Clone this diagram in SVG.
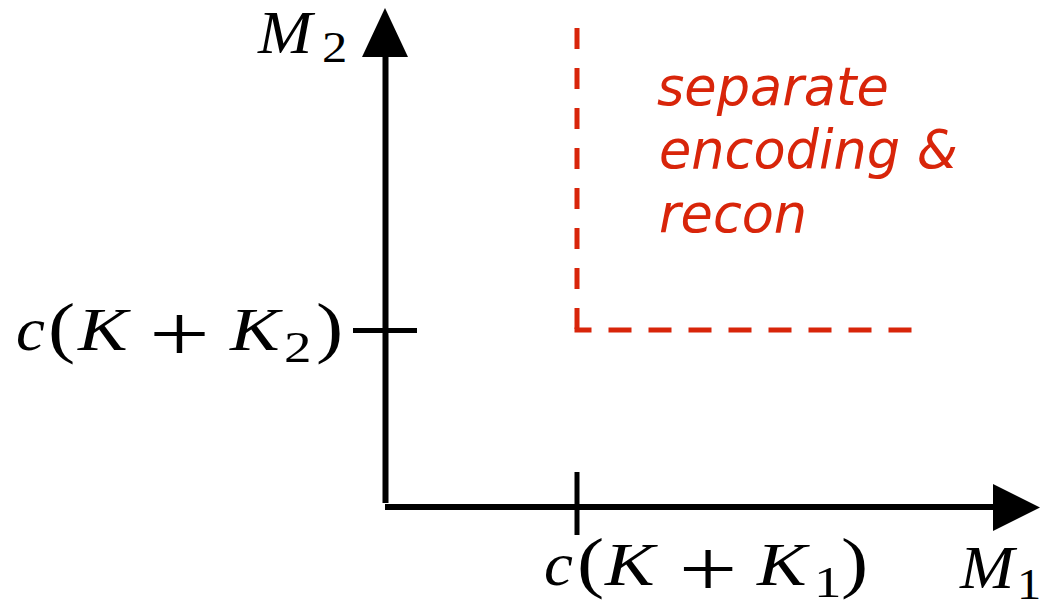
<svg xmlns="http://www.w3.org/2000/svg" width="1043" height="605" viewBox="0 0 1043 605">
<style>
.ax{stroke:#000;stroke-width:6;fill:none}
.tk{stroke:#000;stroke-width:5;fill:none}
.red{stroke:#d8250a;stroke-width:5;fill:none}
.m{font-family:"Liberation Serif",serif;font-size:62px;fill:#000}
.i{font-style:italic}
.p{font-size:68px}
.pl{font-size:80px}
.s{font-size:44px}
.lbl{font-family:"DejaVu Sans",sans-serif;font-style:oblique;font-size:52.5px;fill:#d8250a}
</style>
<rect width="1043" height="605" fill="#fff"/>
<g id="connectors">
<line class="ax" x1="385.5" y1="503" x2="385.5" y2="55"/>
<polygon points="362,57 408,57 385,8" fill="#000"/>
<line class="ax" x1="385" y1="507" x2="995" y2="507"/>
<polygon points="993,484 993,531 1040,507.5" fill="#000"/>
<line class="tk" x1="353" y1="330.5" x2="417" y2="330.5"/>
<line class="tk" x1="577" y1="472" x2="577" y2="535"/>
</g>
<g id="region">
<line class="red" x1="577" y1="28" x2="577" y2="330" stroke-dasharray="21 19"/>
<line class="red" x1="574.5" y1="330" x2="913" y2="330" stroke-dasharray="23 17" stroke-dashoffset="6"/>
<text class="lbl"><tspan x="657" y="105">separate</tspan><tspan x="659" y="168">encoding &amp;</tspan><tspan x="659" y="232">recon</tspan></text>
</g>
<g id="label-M2">
<text class="m i" transform="translate(258,53) scale(1.05,1)">M</text>
<text class="m s" transform="translate(322,62) scale(1.15,1)">2</text>
</g>
<g id="label-M1">
<text class="m i" transform="translate(960,588) scale(1.05,1)">M</text>
<text class="m s" transform="translate(1017,599) scale(1.1,1)">1</text>
</g>
<g id="label-cK2">
<text class="m i" transform="translate(16,350) scale(1.05,1)">c</text>
<text class="m p" transform="translate(48,350) scale(1.2,1)">(</text>
<text class="m i" transform="translate(78,350) scale(1.2,1)">K</text>
<text class="m pl" text-anchor="middle" transform="translate(179.5,361) scale(1.35,1)">+</text>
<text class="m i" transform="translate(230,350) scale(1.2,1)">K</text>
<text class="m s" transform="translate(284,362) scale(1.25,1)">2</text>
<text class="m p" transform="translate(316,350) scale(1.2,1)">)</text>
</g>
<g id="label-cK1">
<text class="m i" transform="translate(544,585) scale(1.05,1)">c</text>
<text class="m p" transform="translate(577,585) scale(1.2,1)">(</text>
<text class="m i" transform="translate(605,585) scale(1.2,1)">K</text>
<text class="m pl" text-anchor="middle" transform="translate(708,596) scale(1.3,1)">+</text>
<text class="m i" transform="translate(757,585) scale(1.2,1)">K</text>
<text class="m s" transform="translate(814,597) scale(1.25,1)">1</text>
<text class="m p" transform="translate(841,585) scale(1.2,1)">)</text>
</g>
</svg>
